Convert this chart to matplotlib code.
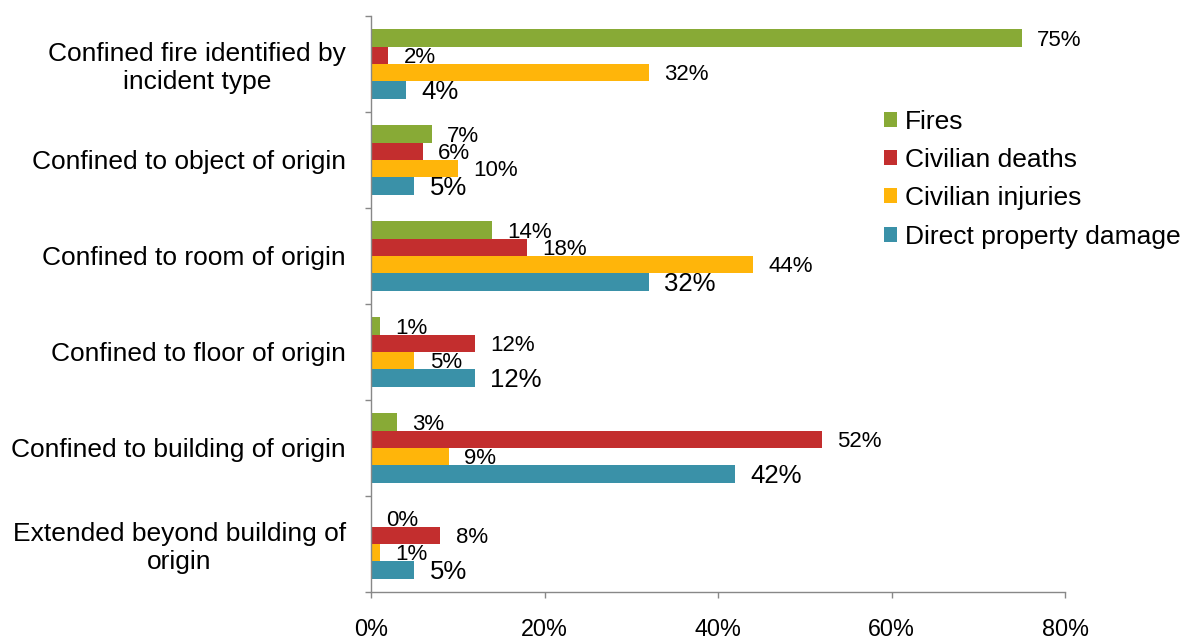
import matplotlib
matplotlib.use("Agg")
import matplotlib.pyplot as plt
import numpy as np

plt.rcParams['font.family'] = ['Liberation Sans', 'DejaVu Sans']

categories = ["Confined fire identified by\nincident type",
              "Confined to object of origin",
              "Confined to room of origin",
              "Confined to floor of origin",
              "Confined to building of origin",
              "Extended beyond building of\norigin"]
series_names = ["Fires", "Civilian deaths", "Civilian injuries", "Direct property damage"]
fires = [75, 7, 14, 1, 3, 0]
deaths = [2, 6, 18, 12, 52, 8]
injuries = [32, 10, 44, 5, 9, 1]
damage = [4, 5, 32, 12, 42, 5]
xticks = [0, 20, 40, 60, 80]

colors = ['#88aa36', '#c32e2e', '#ffb50a', '#3a91a8']
label_sizes = [16, 16, 16, 18.5]

fig = plt.figure(figsize=(11.83, 6.40), dpi=100)
ax = fig.add_axes([0.3136, 0.075, 0.9003 - 0.3136, 0.975 - 0.075])

y = np.arange(len(categories))
h = 0.18
offsets = [-1.5 * h, -0.5 * h, 0.5 * h, 1.5 * h]
handles = []
for vals, name, c, off, fs in zip([fires, deaths, injuries, damage], series_names,
                                  colors, offsets, label_sizes):
    bars = ax.barh(y + off, vals, height=h, color=c, label=name)
    handles.append(bars)
    for yi, v in zip(y + off, vals):
        ax.annotate(f"{v}%", xy=(v, yi), xytext=(11, -1.5), textcoords='offset points',
                    ha='left', va='center', fontsize=fs, color='black')

ax.set_xlim(0, 80)
ax.set_ylim(len(categories) - 0.5, -0.5)
ax.set_xticks(xticks)
ax.set_xticklabels([f"{t}%" for t in xticks])
ax.set_yticks(y)
ax.set_yticklabels(categories)
ax.set_yticks(np.arange(len(categories) + 1) - 0.5, minor=True)

for lab in ax.get_yticklabels():
    lab.set_multialignment('center')

ax.tick_params(axis='y', which='major', length=0, pad=18, labelsize=19)
ax.tick_params(axis='y', which='minor', length=4.3, width=1, color='#888888')
ax.tick_params(axis='x', which='major', length=4.3, width=1, color='#888888',
               pad=14.5, labelsize=16.8)

for s in ['top', 'right']:
    ax.spines[s].set_visible(False)
for s in ['left', 'bottom']:
    ax.spines[s].set_color('#888888')
    ax.spines[s].set_linewidth(1)

fig.legend(handles=handles, labels=series_names, loc='center left',
           bbox_to_anchor=(0.7473, 0.720), frameon=False, fontsize=19,
           handlelength=0.5, handleheight=0.5, handletextpad=0.3,
           labelspacing=0.54, borderpad=0, borderaxespad=0)

fig.savefig("out.png", dpi=100)
